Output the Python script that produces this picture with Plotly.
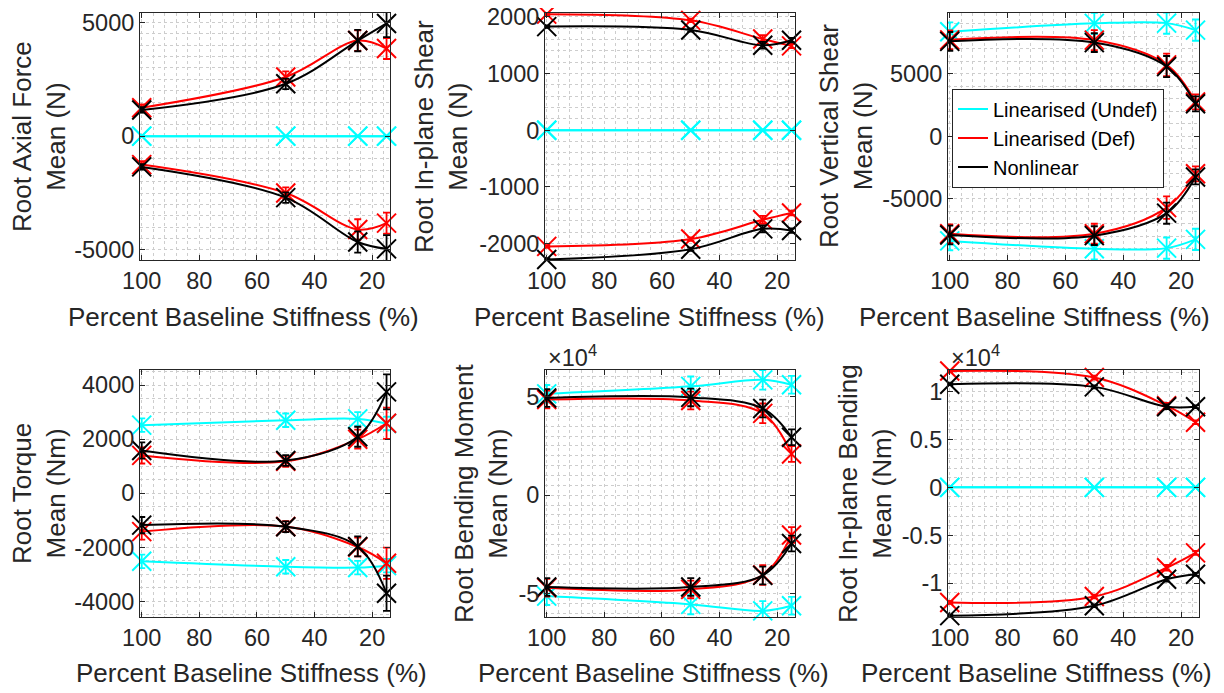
import plotly.graph_objects as go

# The page body adds an 8 px margin, so the figure is drawn 8 px smaller
# and every target pixel position is shifted by that amount.
PAGE_OFF = 8
W, H = 1224 - PAGE_OFF, 693 - PAGE_OFF

# ---------------- data ----------------
stiffness = [100, 50, 25, 15]
x_tick_vals = [100, 80, 60, 40, 20]
x_tick_text = ["100", "80", "60", "40", "20"]

# Panel 1: Root Axial Force (N)
axial_undef_hi = [0, 0, 0, 0]
axial_undef_lo = [0, 0, 0, 0]
axial_def_hi = [1250, 2600, 4200, 3850]
axial_def_lo = [-1250, -2500, -4100, -3820]
axial_non_hi = [1150, 2300, 4200, 4950]
axial_non_lo = [-1350, -2700, -4650, -4950]
axial_undef_err = [0, 0, 0, 0]
axial_def_err = [150, 250, 450, 460]
axial_non_err = [120, 230, 470, 600]

# Panel 2: Root In-plane Shear (N)
ipshear_undef_hi = [0, 0, 0, 0]
ipshear_undef_lo = [0, 0, 0, 0]
ipshear_def_hi = [2050, 1940, 1610, 1490]
ipshear_def_lo = [-2050, -1920, -1580, -1460]
ipshear_non_hi = [1830, 1770, 1500, 1590]
ipshear_non_lo = [-2280, -2100, -1740, -1770]
ipshear_undef_err = [0, 0, 0, 0]
ipshear_def_err = [20, 30, 70, 40]
ipshear_non_err = [20, 30, 60, 40]

# Panel 3: Root Vertical Shear (N)
vshear_undef_hi = [8370, 9040, 9060, 8500]
vshear_undef_lo = [-8370, -9000, -8950, -8250]
vshear_def_hi = [7720, 7700, 5720, 2750]
vshear_def_lo = [-7800, -7800, -5710, -3000]
vshear_non_hi = [7600, 7500, 5580, 2600]
vshear_non_lo = [-7900, -7950, -6150, -3250]
vshear_undef_err = [750, 850, 850, 850]
vshear_def_err = [750, 800, 900, 600]
vshear_non_err = [750, 750, 850, 600]

# Panel 4: Root Torque (Nm)
torque_undef_hi = [2520, 2700, 2750, 2580]
torque_undef_lo = [-2520, -2720, -2750, -2680]
torque_def_hi = [1400, 1180, 2000, 2590]
torque_def_lo = [-1420, -1230, -1990, -2590]
torque_non_hi = [1580, 1210, 2090, 3750]
torque_non_lo = [-1180, -1240, -1970, -3700]
torque_undef_err = [250, 250, 250, 250]
torque_def_err = [300, 200, 350, 580]
torque_non_err = [300, 200, 370, 650]

# Panel 5: Root Bending Moment (Nm)
bend_undef_hi = [51400, 55200, 58500, 56000]
bend_undef_lo = [-51200, -55400, -58700, -56100]
bend_def_hi = [48500, 48000, 41500, 20900]
bend_def_lo = [-47000, -47800, -40500, -20200]
bend_non_hi = [49300, 49600, 44000, 29400]
bend_non_lo = [-46600, -46600, -40700, -24500]
bend_undef_err = [4500, 5000, 5000, 4500]
bend_def_err = [4500, 4500, 5000, 4000]
bend_non_err = [4500, 4500, 4500, 4000]

# Panel 6: Root In-plane Bending (Nm)
ipbend_undef_hi = [0, 0, 0, 0]
ipbend_undef_lo = [0, 0, 0, 0]
ipbend_def_hi = [12140, 11450, 8520, 6790]
ipbend_def_lo = [-12000, -11380, -8380, -6830]
ipbend_non_hi = [10760, 10480, 8410, 8410]
ipbend_non_lo = [-13380, -12350, -9590, -9070]
ipbend_undef_err = [0, 0, 0, 0]
ipbend_def_err = [150, 200, 300, 200]
ipbend_non_err = [100, 150, 250, 150]

series_names = ["Linearised (Undef)", "Linearised (Def)", "Nonlinear"]
series_colors = ["#00FFFF", "#FF0000", "#000000"]

y_titles = [
    "Root Axial Force<br>Mean (N)",
    "Root In-plane Shear<br>Mean (N)",
    "Root Vertical Shear<br>Mean (N)",
    "Root Torque<br>Mean (Nm)",
    "Root Bending Moment<br>Mean (Nm)",
    "Root In-plane Bending<br>Mean (Nm)",
]
x_title = "Percent Baseline Stiffness (%)"

y_tick_vals = [
    [-5000, 0, 5000],
    [-2000, -1000, 0, 1000, 2000],
    [-5000, 0, 5000],
    [-4000, -2000, 0, 2000, 4000],
    [-50000, 0, 50000],
    [-10000, -5000, 0, 5000, 10000],
]
y_tick_text = [
    ["-5000", "0", "5000"],
    ["-2000", "-1000", "0", "1000", "2000"],
    ["-5000", "0", "5000"],
    ["-4000", "-2000", "0", "2000", "4000"],
    ["-5", "0", "5"],
    ["-1", "-0.5", "0", "0.5", "1"],
]
y_minor_step = [500, 200, 1000, 500, 5000, 1000]
y_ranges = [
    [-5440, 5410],
    [-2290, 2070],
    [-9900, 9870],
    [-4580, 4560],
    [-61800, 63500],
    [-13520, 12240],
]
exponent_panels = [4, 5]

panels = [
    [(axial_undef_hi, axial_undef_lo, axial_undef_err),
     (axial_def_hi, axial_def_lo, axial_def_err),
     (axial_non_hi, axial_non_lo, axial_non_err)],
    [(ipshear_undef_hi, ipshear_undef_lo, ipshear_undef_err),
     (ipshear_def_hi, ipshear_def_lo, ipshear_def_err),
     (ipshear_non_hi, ipshear_non_lo, ipshear_non_err)],
    [(vshear_undef_hi, vshear_undef_lo, vshear_undef_err),
     (vshear_def_hi, vshear_def_lo, vshear_def_err),
     (vshear_non_hi, vshear_non_lo, vshear_non_err)],
    [(torque_undef_hi, torque_undef_lo, torque_undef_err),
     (torque_def_hi, torque_def_lo, torque_def_err),
     (torque_non_hi, torque_non_lo, torque_non_err)],
    [(bend_undef_hi, bend_undef_lo, bend_undef_err),
     (bend_def_hi, bend_def_lo, bend_def_err),
     (bend_non_hi, bend_non_lo, bend_non_err)],
    [(ipbend_undef_hi, ipbend_undef_lo, ipbend_undef_err),
     (ipbend_def_hi, ipbend_def_lo, ipbend_def_err),
     (ipbend_non_hi, ipbend_non_lo, ipbend_non_err)],
]

# ---------------- layout geometry (window pixels) ----------------
col_px = [(140, 390), (545, 795), (948, 1199)]
row_px = [(13, 260), (370, 617)]
ytitle_cx = [38.5, 440.5, 845.5, 38.5, 480.5, 864.5]
xtitle_cx = [243, 649, 1034, 251, 653, 1036]
xtitle_cy = [317, 317, 317, 673, 673, 673]
legend_px = (952, 88.5)


def px_x(p):
    return (p - PAGE_OFF) / W


def px_y(p):
    return 1 - (p - PAGE_OFF) / H


FONT = "Liberation Sans, Arial, sans-serif"
TXT = "#262626"
TICK_SIZE = 23.5
TITLE_SIZE = 26

fig = go.Figure()
layout = dict(
    template="none",
    width=W, height=H,
    margin=dict(l=0, r=0, t=0, b=0, pad=0, autoexpand=False),
    paper_bgcolor="white", plot_bgcolor="white",
    font=dict(family=FONT, size=TICK_SIZE, color=TXT),
    showlegend=True,
    legend=dict(
        x=px_x(legend_px[0]), y=px_y(legend_px[1]), xanchor="left", yanchor="top",
        bgcolor="white", bordercolor=TXT, borderwidth=1,
        font=dict(family=FONT, size=20, color="#000000"),
        tracegroupgap=0, itemwidth=30,
    ),
)
annotations = []

for i in range(6):
    r, c = divmod(i, 3)
    x0, x1 = col_px[c]
    y0, y1 = row_px[r]
    sfx = "" if i == 0 else str(i + 1)
    xa, ya = "x" + sfx, "y" + sfx
    grid = dict(showgrid=True, gridcolor="#cdcdcd", griddash="dot", gridwidth=1)
    layout["xaxis" + sfx] = dict(
        domain=[px_x(x0), px_x(x1)], anchor=ya, automargin=False,
        range=[100.6, 13.8], tickvals=x_tick_vals, ticktext=x_tick_text,
        ticks="inside", ticklen=5, tickcolor=TXT, showline=True, linecolor=TXT,
        linewidth=1, mirror="ticks", zeroline=False, ticklabeloverflow="allow",
        minor=dict(dtick=4, tick0=0, ticks="", **grid),
        tickfont=dict(size=TICK_SIZE, color=TXT), **grid,
    )
    layout["yaxis" + sfx] = dict(
        domain=[px_y(y1), px_y(y0)], anchor=xa, automargin=False,
        range=y_ranges[i], tickvals=y_tick_vals[i], ticktext=y_tick_text[i],
        ticks="inside", ticklen=5, tickcolor=TXT, showline=True, linecolor=TXT,
        linewidth=1, mirror="ticks", zeroline=False, ticklabeloverflow="allow",
        minor=dict(dtick=y_minor_step[i], tick0=0, ticks="", **grid),
        tickfont=dict(size=TICK_SIZE, color=TXT), **grid,
    )

    for s, (hi, lo, err) in enumerate(panels[i]):
        col = series_colors[s]
        for b, vals in enumerate((hi, lo)):
            fig.add_trace(go.Scatter(
                x=stiffness, y=vals, mode="lines", xaxis=xa, yaxis=ya,
                line=dict(color=col, width=2, shape="spline", smoothing=1.0),
                name=series_names[s], legendgroup=series_names[s],
                showlegend=(i == 2 and b == 0), hoverinfo="skip",
            ))
            fig.add_trace(go.Scatter(
                x=stiffness, y=vals, mode="markers", xaxis=xa, yaxis=ya,
                marker=dict(symbol="x-thin", size=19, color=col,
                            line=dict(color=col, width=2)),
                error_y=dict(type="data", array=err, visible=True,
                             color=col, thickness=1.8, width=3.5),
                showlegend=False, cliponaxis=False, hoverinfo="skip",
            ))

    annotations.append(dict(
        text=y_titles[i], xref="paper", yref="paper",
        x=px_x(ytitle_cx[i]), y=px_y((y0 + y1) / 2),
        xanchor="center", yanchor="middle", textangle=-90, showarrow=False,
        align="center", font=dict(family=FONT, size=TITLE_SIZE, color=TXT),
    ))
    annotations.append(dict(
        text=x_title, xref="paper", yref="paper",
        x=px_x(xtitle_cx[i]), y=px_y(xtitle_cy[i]),
        xanchor="center", yanchor="middle", showarrow=False,
        font=dict(family=FONT, size=TITLE_SIZE, color=TXT),
    ))
    if i in exponent_panels:
        annotations.append(dict(
            text="×10<sup>4</sup>", xref="paper", yref="paper",
            x=px_x(x0 + 1), y=px_y(y0 + 3),
            xanchor="left", yanchor="bottom", showarrow=False,
            font=dict(family=FONT, size=TICK_SIZE, color=TXT),
        ))

layout["annotations"] = annotations
fig.update_layout(**layout)
fig.write_html("out.html")
